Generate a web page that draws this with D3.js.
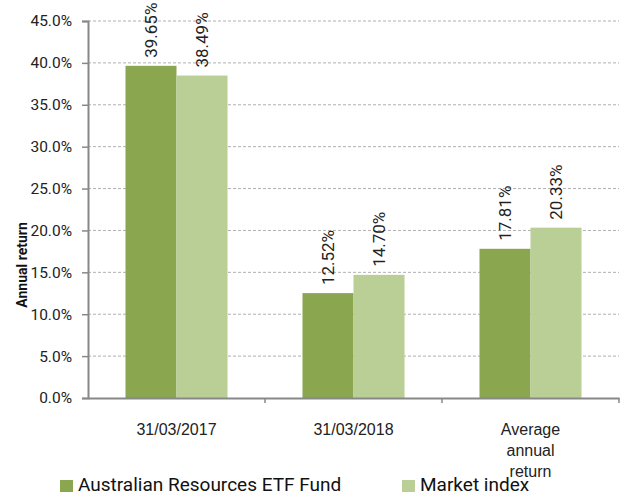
<!DOCTYPE html>
<html>
<head>
<meta charset="utf-8">
<script src="https://cdn.jsdelivr.net/npm/d3@7"></script>
<style>
body { margin: 0; background: #fff; }
svg { display: block; font-family: Roboto, sans-serif; }
</style>
</head>
<body>
<svg id="chart"></svg>
<script>
// Data
const categories = ["31/03/2017", "31/03/2018", "Average annual return"];
const categoryLines = [["31/03/2017"], ["31/03/2018"], ["Average", "annual", "return"]];
const series = ["Australian Resources ETF Fund", "Market index"];
const fundValues = [39.65, 12.52, 17.81];
const indexValues = [38.49, 14.70, 20.33];
const yTicks = [0, 5, 10, 15, 20, 25, 30, 35, 40, 45];
const colors = ["#8aa64f", "#b9cf96"];

const W = 627, H = 492;
const margin = {top: 21, right: 8, bottom: 94, left: 88};
const width = W - margin.left - margin.right,
      height = H - margin.top - margin.bottom;

const svg = d3.select("#chart").attr("width", W).attr("height", H);
const g = svg.append("g").attr("transform", `translate(${margin.left},${margin.top})`);

const x0 = d3.scaleBand().domain(categories).range([0, width]).padding(0);
const x1 = d3.scaleBand().domain(series).range([0, x0.bandwidth()]).paddingInner(0).paddingOuter(0.735);
const y = d3.scaleLinear().domain([0, 45]).range([height, 0]);

// grid lines
g.selectAll(".grid").data(yTicks.filter(d => d > 0)).enter()
  .append("line")
  .attr("x1", 0).attr("x2", width)
  .attr("y1", d => y(d)).attr("y2", d => y(d))
  .attr("stroke", "#b0b0b0").attr("stroke-width", 1)
  .attr("stroke-dasharray", "3,2");

// bars
const rows = categories.map((c, i) => ({cat: c, values: [fundValues[i], indexValues[i]]}));
const groups = g.selectAll(".grp").data(rows).enter()
  .append("g").attr("transform", d => `translate(${x0(d.cat)},0)`);

groups.selectAll("rect").data(d => d.values.map((v, j) => ({s: series[j], v, j}))).enter()
  .append("rect")
  .attr("x", d => x1(d.s))
  .attr("y", d => y(d.v))
  .attr("width", x1.bandwidth())
  .attr("height", d => height - y(d.v))
  .attr("fill", d => colors[d.j]);

groups.selectAll(".val").data(d => d.values.map((v, j) => ({s: series[j], v, j}))).enter()
  .append("text")
  .attr("transform", d => `translate(${x1(d.s) + x1.bandwidth() / 2 + 6},${y(d.v) - 8}) rotate(-90)`)
  .attr("font-size", 17).attr("fill", "#222")
  .text(d => d.v.toFixed(2) + "%");

// y axis
const yAxis = g.append("g")
  .call(d3.axisLeft(y).tickValues(yTicks).tickSize(6).tickPadding(10).tickFormat(d => d.toFixed(1) + "%"));
yAxis.select(".domain").attr("stroke", "#888").attr("stroke-width", 2);
yAxis.selectAll(".tick line").attr("stroke", "#888").attr("stroke-width", 1.5);
yAxis.selectAll("text").attr("font-size", 15.5).attr("fill", "#222").attr("font-family", "Roboto, sans-serif");

// x axis
const xAxis = g.append("g").attr("transform", `translate(0,${height})`)
  .call(d3.axisBottom(x0).tickValues([]).tickSizeOuter(0));
xAxis.select(".domain").attr("stroke", "#888").attr("stroke-width", 2);
xAxis.selectAll(".sep").data(categories).enter()
  .append("line")
  .attr("x1", d => x0(d) + x0.bandwidth()).attr("x2", d => x0(d) + x0.bandwidth())
  .attr("y1", 0).attr("y2", 5)
  .attr("stroke", "#888").attr("stroke-width", 1.5);

const catText = xAxis.selectAll(".cat").data(categories).enter()
  .append("text")
  .attr("text-anchor", "middle")
  .attr("font-size", 16).attr("fill", "#222")
  .attr("transform", d => `translate(${x0(d) + x0.bandwidth() / 2},37)`);
catText.each(function(d, i) {
  d3.select(this).selectAll("tspan").data(categoryLines[i]).enter()
    .append("tspan").attr("x", 0).attr("dy", (t, k) => k === 0 ? 0 : 21).text(t => t);
});

// y axis title
svg.append("text")
  .attr("transform", "translate(27,265) rotate(-90)")
  .attr("text-anchor", "middle")
  .attr("font-size", 14).attr("font-weight", "bold").attr("fill", "#111")
  .text("Annual return");

// legend
const legendX = [60, 402];
const legend = svg.selectAll(".leg").data(series).enter()
  .append("g").attr("transform", (d, i) => `translate(${legendX[i]},480)`);
legend.append("rect").attr("width", 13).attr("height", 12).attr("fill", (d, i) => colors[i]);
legend.append("text").attr("x", 18).attr("y", 11).attr("font-size", 19).attr("fill", "#111").text(d => d);
</script>
</body>
</html>
